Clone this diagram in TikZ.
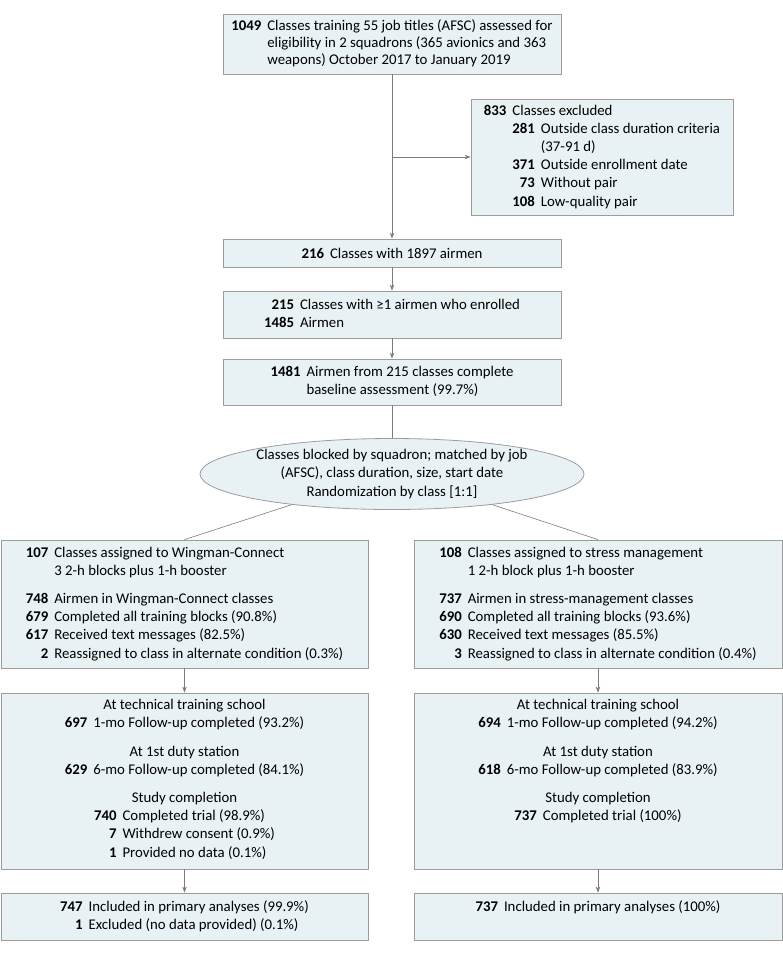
\documentclass[tikz,border=0pt]{standalone}
\usepackage{fontspec}
\setmainfont{Carlito}
\usetikzlibrary{shapes.geometric,arrows.meta}
\definecolor{boxfill}{HTML}{E8F1F4}
\definecolor{boxline}{HTML}{9C9C9C}
\definecolor{arrline}{HTML}{7C7C7C}
\newcommand{\nm}[1]{\textbf{#1}}
\newenvironment{rows}{\begin{tabular}[t]{@{}r@{\hspace{6pt}}l@{}}}{\end{tabular}}

\begin{document}
\begin{tikzpicture}[x=1pt,y=-1pt,
	box/.style={draw=boxline,fill=boxfill,line width=0.8pt,inner sep=0pt,align=center,font=\fontsize{14.8}{18.2}\selectfont},
	oval/.style={box,ellipse,minimum width=384,minimum height=71},
	arr/.style={draw=arrline,line width=0.7pt,-{Stealth[length=6pt,width=4.5pt]}},
	link/.style={draw=arrline,line width=0.6pt}]
	\useasboundingbox (0,0) rectangle (783,954);
	\node[box,minimum width=338,minimum height=60] (top) at (392,44) {\begin{rows}
		\nm{1049} & Classes training 55 job titles (AFSC) assessed for\\[-1.5pt]
		& eligibility in 2 squadrons (365 avionics and 363\\[-1.5pt]
		& weapons) October 2017 to January 2019
	\end{rows}};
	\node[box,minimum width=262,minimum height=116] (excl) at (602,157) {\begin{tabular}[t]{@{}r@{\hspace{6pt}}r@{\hspace{6pt}}l@{}}
		\nm{833} & \multicolumn{2}{@{}l@{}}{Classes excluded}\\
		& \nm{281} & Outside class duration criteria\\
		& & (37-91 d)\\
		& \nm{371} & Outside enrollment date\\
		& \nm{73} & Without pair\\
		& \nm{108} & Low-quality pair
	\end{tabular}};
	\node[box,minimum width=338,minimum height=28] (b216) at (392,253) {\nm{216}\hspace{6pt}Classes with 1897 airmen};
	\node[box,minimum width=338,minimum height=47] (b215) at (392,314.5) {\begin{rows}
		\nm{215} & Classes with ≥1 airmen who enrolled\\
		\nm{1485} & Airmen
	\end{rows}};
	\node[box,minimum width=338,minimum height=46] (b1481) at (392,382) {\begin{rows}
		\nm{1481} & Airmen from 215 classes complete\\
		& baseline assessment (99.7\%)
	\end{rows}};
	\node[oval] (rand) at (392,474) {Classes blocked by squadron; matched by job\\(AFSC), class duration, size, start date\\Randomization by class [1:1]};
	\node[box,minimum width=367,minimum height=128] (armL) at (184.5,604) {\begin{rows}
		\nm{107} & Classes assigned to Wingman-Connect\\
		& 3 2-h blocks plus 1-h booster\\[10pt]
		\nm{748} & Airmen in Wingman-Connect classes\\
		\nm{679} & Completed all training blocks (90.8\%)\\
		\nm{617} & Received text messages (82.5\%)\\
		\nm{2} & Reassigned to class in alternate condition (0.3\%)
	\end{rows}};
	\node[box,minimum width=368,minimum height=128] (armR) at (598,604) {\begin{rows}
		\nm{108} & Classes assigned to stress management\\
		& 1 2-h block plus 1-h booster\\[10pt]
		\nm{737} & Airmen in stress-management classes\\
		\nm{690} & Completed all training blocks (93.6\%)\\
		\nm{630} & Received text messages (85.5\%)\\
		\nm{3} & Reassigned to class in alternate condition (0.4\%)
	\end{rows}};
	\node[box,minimum width=367,minimum height=176] (fupL) at (184.5,781) {At technical training school\\
		\nm{697}\hspace{6pt}1-mo Follow-up completed (93.2\%)\\[10pt]
		At 1st duty station\\
		\nm{629}\hspace{6pt}6-mo Follow-up completed (84.1\%)\\[10pt]
		Study completion\\
		\begin{rows}
		\nm{740} & Completed trial (98.9\%)\\
		\nm{7} & Withdrew consent (0.9\%)\\
		\nm{1} & Provided no data (0.1\%)
	\end{rows}};
	\node[box,minimum width=368,minimum height=176] (fupR) at (598,781) {At technical training school\\
		\nm{694}\hspace{6pt}1-mo Follow-up completed (94.2\%)\\[10pt]
		At 1st duty station\\
		\nm{618}\hspace{6pt}6-mo Follow-up completed (83.9\%)\\[10pt]
		Study completion\\
		\begin{rows}
		\nm{737} & Completed trial (100\%)\\
		& \\
		&
	\end{rows}};
	\node[box,minimum width=367,minimum height=47] (finL) at (184.5,916.5) {\begin{rows}
		\nm{747} & Included in primary analyses (99.9\%)\\
		\nm{1} & Excluded (no data provided) (0.1\%)
	\end{rows}};
	\node[box,minimum width=368,minimum height=47] (finR) at (598,916.5) {\begin{rows}
		\nm{737} & Included in primary analyses (100\%)\\
		&
	\end{rows}};
	\coordinate (split) at (392,157);
	\draw[arr] (top.south) -- (b216.north);
	\draw[arr] (split) -- (excl.west);
	\draw[arr] (b216) -- (b215);
	\draw[arr] (b215) -- (b1481);
	\draw[link] (b1481) -- (rand);
	\draw[link] (rand.-163) -- (armL.north);
	\draw[link] (rand.-17) -- (armR.north);
	\draw[arr] (armL) -- (fupL);
	\draw[arr] (armR) -- (fupR);
	\draw[arr] (fupL) -- (finL);
	\draw[arr] (fupR) -- (finR);
\end{tikzpicture}
\end{document}
